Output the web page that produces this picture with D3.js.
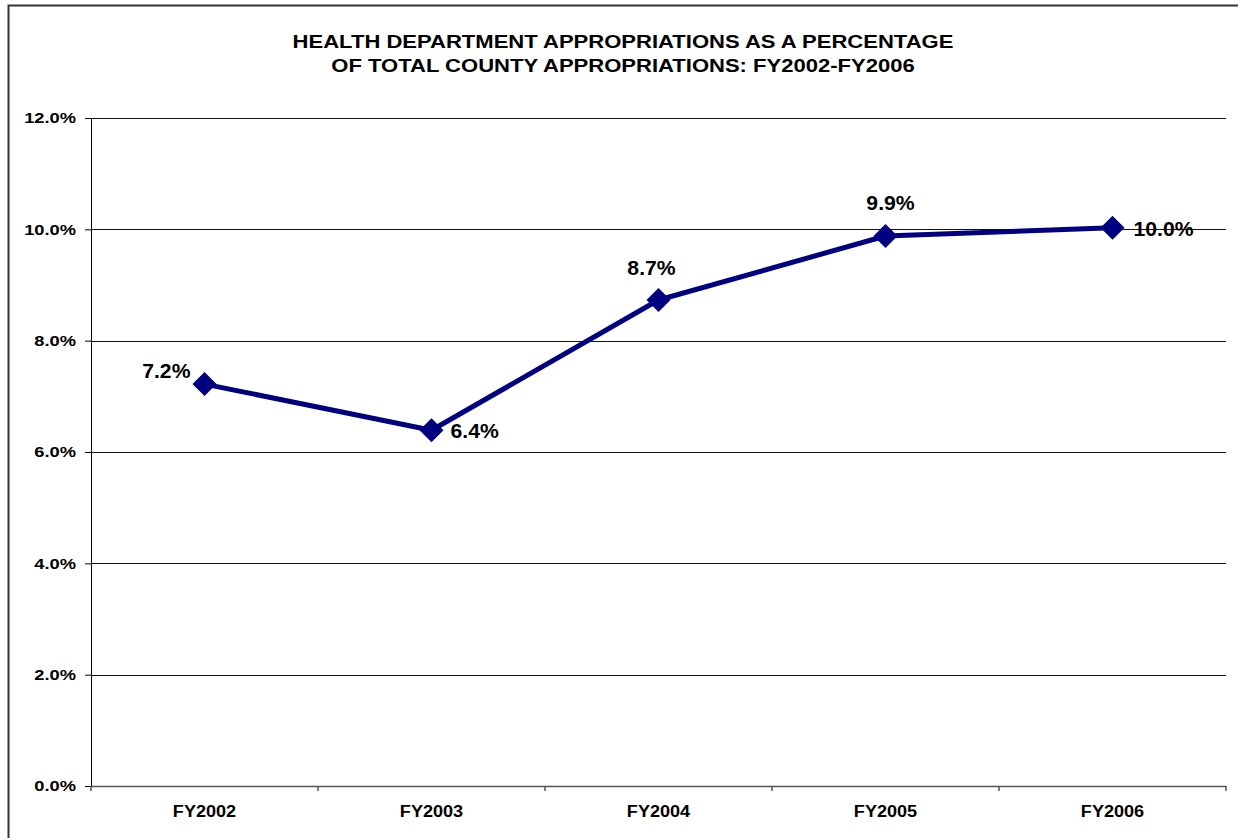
<!DOCTYPE html>
<html>
<head>
<meta charset="utf-8">
<script src="https://cdn.jsdelivr.net/npm/d3@7/dist/d3.min.js"></script>
<style>
  body { margin: 0; background: #fff; }
  svg { display: block; font-family: "Liberation Sans", Arial, sans-serif; }
</style>
</head>
<body>
<div id="chart"></div>
<script>
const years = ['FY2002', 'FY2003', 'FY2004', 'FY2005', 'FY2006'];
const shares = [7.22, 6.39, 8.73, 9.88, 10.03];
const labels = ['7.2%', '6.4%', '8.7%', '9.9%', '10.0%'];
const yTicks = [0, 2, 4, 6, 8, 10, 12];
const titleLines = ['HEALTH DEPARTMENT APPROPRIATIONS AS A PERCENTAGE',
                    'OF TOTAL COUNTY APPROPRIATIONS: FY2002-FY2006'];

const w = 1238, h = 838;
const margin = { top: 118, right: 12, bottom: 52, left: 91 },
  width = w - margin.left - margin.right,
  height = h - margin.top - margin.bottom;

// the source picture is a bit wider than tall, so text is stretched sideways
const stretch = 1.16;

const svg = d3.select('#chart').append('svg')
  .attr('width', w)
  .attr('height', h);

// outer frame (only top and left edges show)
svg.append('rect')
  .attr('x', 8.5).attr('y', 5.5)
  .attr('width', w + 20).attr('height', h + 20)
  .attr('fill', 'none')
  .attr('stroke', '#333')
  .attr('stroke-width', 2);

svg.append('g')
  .selectAll('text')
  .data(titleLines)
  .join('text')
  .attr('transform', (d, i) => 'translate(623,' + (47.5 + i * 24.5) + ') scale(' + stretch + ',1)')
  .attr('text-anchor', 'middle')
  .attr('font-size', 19)
  .attr('font-weight', 'bold')
  .text(d => d);

const g = svg.append('g')
  .attr('transform', 'translate(' + margin.left + ',' + margin.top + ')');

const x = d3.scaleBand().domain(years).range([0, width]);
const y = d3.scaleLinear().domain([0, 12]).range([height, 0]);

// gridlines
g.append('g')
  .selectAll('line')
  .data(yTicks.filter(t => t > 0))
  .join('line')
  .attr('x1', 0).attr('x2', width)
  .attr('y1', d => Math.round(y(d)) + 0.5)
  .attr('y2', d => Math.round(y(d)) + 0.5)
  .attr('stroke', '#111')
  .attr('stroke-width', 1);

// Y axis
const yAxis = g.append('g')
  .call(d3.axisLeft(y).tickValues(yTicks).tickSize(6).tickFormat(d => d.toFixed(1) + '%'));
yAxis.select('.domain').attr('stroke', '#000');
yAxis.selectAll('.tick line').attr('stroke', '#000');
yAxis.selectAll('text')
  .attr('font-size', 15.5).attr('font-weight', 'bold')
  .attr('font-family', '"Liberation Sans", Arial, sans-serif')
  .attr('fill', '#000')
  .attr('x', -15 / 1.18)
  .attr('transform', 'scale(1.18,1)');

// X axis
const xAxis = g.append('g')
  .attr('transform', 'translate(0,' + height + ')')
  .call(d3.axisBottom(x).tickSize(0).tickSizeOuter(0));
xAxis.select('.domain').attr('stroke', '#555').attr('stroke-width', 1.5);
xAxis.selectAll('text')
  .attr('font-size', 16).attr('font-weight', 'bold')
  .attr('font-family', '"Liberation Sans", Arial, sans-serif')
  .attr('fill', '#000')
  .attr('y', 31).attr('dy', 0)
  .attr('transform', 'scale(1.13,1)');
xAxis.append('g')
  .selectAll('line')
  .data(d3.range(years.length + 1))
  .join('line')
  .attr('x1', i => i * x.step()).attr('x2', i => i * x.step())
  .attr('y1', 0).attr('y2', 5)
  .attr('stroke', '#555').attr('stroke-width', 1.5);

const pts = years.map((d, i) => ({ year: d, value: shares[i], label: labels[i] }));

const line = d3.line()
  .x(d => x(d.year) + x.bandwidth() / 2)
  .y(d => y(d.value));

g.append('path')
  .datum(pts)
  .attr('fill', 'none')
  .attr('stroke', '#000080')
  .attr('stroke-width', 5)
  .attr('stroke-linejoin', 'round')
  .attr('d', line);

g.append('g')
  .selectAll('path')
  .data(pts)
  .join('path')
  .attr('transform', d => 'translate(' + (x(d.year) + x.bandwidth() / 2) + ',' + y(d.value) + ')')
  .attr('d', 'M0,-12L12,0L0,12L-12,0Z')
  .attr('fill', '#000080');

// data labels: placement differs per point as in the picture
const place = [
  { dx: -14, dy: -6, anchor: 'end' },
  { dx: 19, dy: 8, anchor: 'start' },
  { dx: -7, dy: -25, anchor: 'middle' },
  { dx: 5, dy: -26, anchor: 'middle' },
  { dx: 21, dy: 8, anchor: 'start' }
];
g.append('g')
  .selectAll('text')
  .data(pts)
  .join('text')
  .attr('transform', (d, i) => 'translate(' + (x(d.year) + x.bandwidth() / 2 + place[i].dx) + ','
    + (y(d.value) + place[i].dy) + ') scale(1.06,1)')
  .attr('text-anchor', (d, i) => place[i].anchor)
  .attr('font-size', 20)
  .attr('font-weight', 'bold')
  .text(d => d.label);
</script>
</body>
</html>
